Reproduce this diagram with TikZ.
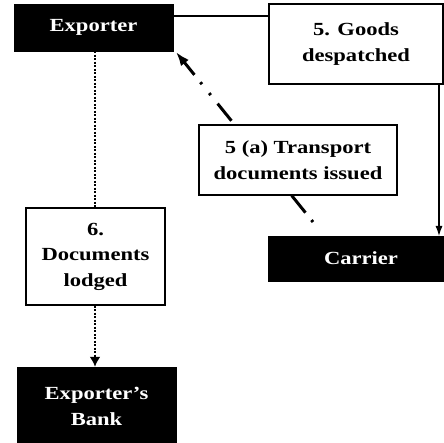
\documentclass[tikz,border=0pt]{standalone}
\usepackage{fontspec}
\setmainfont{Liberation Serif}[FakeStretch=1.22]
\usetikzlibrary{arrows.meta}
\begin{document}
\begin{tikzpicture}[x=1pt,y=-1pt,
  blackbox/.style={fill=black,draw=black,text=white,align=center,inner sep=0pt,
    font=\fontsize{18.5}{26}\selectfont\bfseries},
  whitebox/.style={fill=white,draw=black,line width=1.2pt,text=black,align=center,inner sep=0pt,
    font=\fontsize{18.5}{25.5}\selectfont\bfseries},
  solidline/.style={draw=black,line width=1.2pt},
  dotline/.style={draw=black,line width=2pt,dash pattern=on 2pt off 1.5pt},
  dashdotline/.style={draw=black,line width=3pt,dash pattern=on 2.5pt off 9.5pt on 22pt off 11pt on 2.5pt off 11.5pt},
  tipA/.style={-{Latex[length=14pt,width=10pt]}},
  tipB/.style={-{Latex[length=10pt,width=7pt]}},
  tipC/.style={-{Latex[length=10pt,width=11pt]}}]
\useasboundingbox (0,0) rectangle (444,443);
\coordinate (ds) at (313,222);
\coordinate (exse) at (176,52);
\draw[dashdotline,tipA] (ds) -- (exse);
% nodes
\node[blackbox,minimum width=159pt,minimum height=47pt] (exp) at (93.5,27.5) {Exporter};
\node[whitebox,minimum width=174pt,minimum height=80pt] (goods) at (356,44) {5. Goods\\despatched};
\node[whitebox,minimum width=198pt,minimum height=70pt] (trans) at (298,160) {5 (a) Transport\\documents issued};
\node[blackbox,minimum width=186pt,minimum height=45pt] (carr) at (361,258.5) {Carrier};
\node[whitebox,minimum width=139pt,minimum height=97pt] (lodged) at (95.5,256.5) {6.\\Documents\\lodged};
\node[blackbox,minimum width=159pt,minimum height=78pt] (bank) at (96.5,406) {Exporter's\\Bank};
% connectors
\coordinate (gtop) at (goods.west |- 0,16);
\coordinate (etop) at (exp.east |- 0,16);
\draw[solidline] (etop) -- (gtop);
\coordinate (gbot) at (439,84);
\coordinate (ctop) at (439,236);
\draw[solidline,tipB] (gbot) -- (ctop);
\draw[dotline] (exp.south -| 95,0) -- (lodged.north -| 95,0);
\draw[dotline,tipC] (lodged.south -| 95,0) -- (bank.north -| 95,0);
\end{tikzpicture}
\end{document}
